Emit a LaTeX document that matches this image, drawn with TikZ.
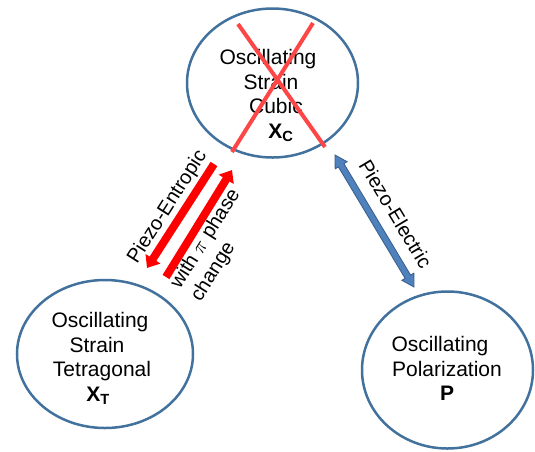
\documentclass[tikz,border=0pt]{standalone}
\usepackage{fontspec}
\setmainfont{Liberation Sans}
\usetikzlibrary{shapes.geometric,arrows.meta,calc}
\definecolor{ringblue}{RGB}{65,113,156}
\definecolor{arrowblue}{RGB}{79,129,189}
\definecolor{arrowedge}{RGB}{56,93,138}
\definecolor{crossred}{RGB}{255,70,70}
\tikzset{
  ring/.style={ellipse, draw=ringblue, line width=2.5pt, inner sep=0pt},
  ringtext/.style={anchor=north, inner sep=0pt, align=center, font=\fontsize{21}{24.5}\selectfont},
  sidelabel/.style={inner sep=0pt, font=\fontsize{20}{24}\selectfont},
  redarrow/.style={red, line width=8pt, -{Triangle[length=11pt,width=17pt]}},
  crossline/.style={crossred, line width=4pt},
}
\begin{document}
\begin{tikzpicture}[x=1pt,y=-1pt]
\useasboundingbox (0,0) rectangle (535,451);
% ellipses
\node[ring, minimum width=171pt, minimum height=149pt] (xc) at (272.5,83) {};
\node[ring, minimum width=176pt, minimum height=148pt] (xt) at (105,354) {};
\node[ring, minimum width=171pt, minimum height=157pt] (pp) at (447.5,370) {};
% texts
\node[ringtext] (xctext) at (268,49.5) {Oscillating\\\rule{6pt}{0pt}Strain\\\rule{16pt}{0pt}Cubic\\\rule{26pt}{0pt}\textbf{X}\textsubscript{\textbf{C}}};
\node[ringtext] (xttext) at (102,312.5) {Oscillating\rule{4pt}{0pt}\\Strain\rule{10pt}{0pt}\\Tetragonal\\\textbf{X}\textsubscript{\textbf{T}}\rule{8pt}{0pt}};
\node[ringtext] (pptext) at (447,336.5) {Oscillating\rule{14pt}{0pt}\\Polarization\\\textbf{P}};
% red cross
\coordinate (c1a) at (238,24); \coordinate (c1b) at (325,147);
\coordinate (c2a) at (313,23); \coordinate (c2b) at (232,152);
\draw[crossline] (c1a) -- (c1b);
\draw[crossline] (c2a) -- (c2b);
% red arrows
\coordinate (r1s) at (214,164); \coordinate (r1e) at (147,268);
\coordinate (r2s) at (166,277); \coordinate (r2e) at (232,170);
\draw[redarrow] (r1s) -- (r1e);
\draw[redarrow] (r2s) -- (r2e);
% blue double arrow
\coordinate (ea) at (335,155); \coordinate (eb) at (414,287);
\coordinate (ea1) at ($(ea)!12pt!(eb)$);
\coordinate (eb1) at ($(eb)!12pt!(ea)$);
\filldraw[fill=arrowblue, draw=arrowedge, line width=0.8pt, line join=miter]
  (ea) -- ($(ea1)!7pt!90:(eb)$) -- ($(ea1)!3.2pt!90:(eb)$) -- ($(eb1)!3.2pt!90:(eb)$)
  -- ($(eb1)!7pt!90:(eb)$) -- (eb) -- ($(eb1)!7pt!-90:(eb)$) -- ($(eb1)!3.2pt!-90:(eb)$)
  -- ($(ea1)!3.2pt!-90:(eb)$) -- ($(ea1)!7pt!-90:(eb)$) -- cycle;
% labels
\node[sidelabel, anchor=base west, rotate=57.5] (pent) at (137,265) {Piezo-Entropic};
\node[sidelabel, anchor=north west, align=left, rotate=58] (phase) at (167.6,282.3) {with $\pi$ phase\\change};
\node[sidelabel, anchor=base west, rotate=-59] (pel) at (358,165) {Piezo-Electric};
\end{tikzpicture}
\end{document}
